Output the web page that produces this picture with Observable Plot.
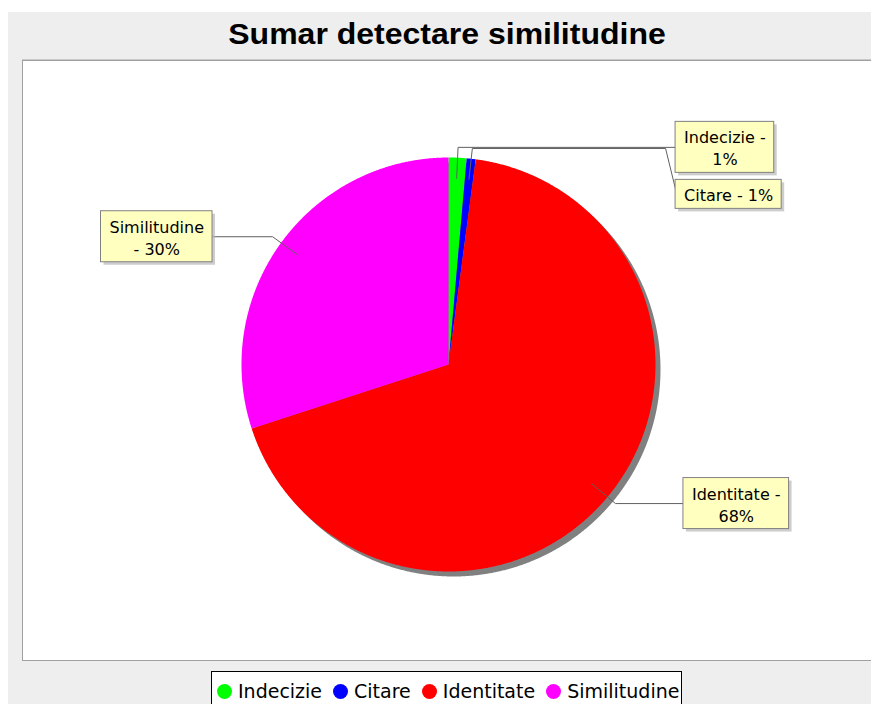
<!DOCTYPE html>
<html>
<head>
<meta charset="utf-8">
<script src="https://cdn.jsdelivr.net/npm/d3@7"></script>
<script src="https://cdn.jsdelivr.net/npm/@observablehq/plot@0.6"></script>
<style>
  html, body { margin: 0; padding: 0; width: 871px; height: 704px; overflow: hidden; background: #ffffff; font-family: "DejaVu Sans", sans-serif; }
  #panel { position: absolute; left: 8px; top: 12px; width: 900px; height: 720px; background: #eeeeee; }
  #title { position: absolute; left: 0; top: 19.6px; width: 894px; text-align: center; font: bold 32px/1 "Liberation Sans", Arial, sans-serif; color: #000; transform: scaleY(0.9); transform-origin: 50% 0; }
  #area { position: absolute; left: 22px; top: 60px; width: 900px; height: 599px; background: #ffffff; border: 1px solid #a0a0a0; box-shadow: 0 -1px 0 #c8c8c8; }
  #chart { position: absolute; left: 23px; top: 61px; }
  #legend { position: absolute; left: 211px; top: 671px; width: 471px; height: 40px; background: #fff; border: 1px solid #000; display: flex; align-items: center; padding-left: 5px; box-sizing: border-box; font: 19px "DejaVu Sans", sans-serif; color: #000; }
  .sw { width: 15px; height: 15px; border-radius: 50%; margin-right: 6px; flex: none; }
  .it { display: flex; align-items: center; margin-right: 11px; white-space: nowrap; }
</style>
</head>
<body>
<div id="panel"></div>
<div id="title">Sumar detectare similitudine</div>
<div id="area"></div>
<div id="chart"></div>
<div id="legend"></div>
<script>
// ---- data ----
const categories = ["Indecizie", "Citare", "Identitate", "Similitudine"];
const values = [1.4, 0.7, 67.9, 30.0];
const labelTexts = ["Indecizie -\n1%", "Citare - 1%", "Identitate -\n68%", "Similitudine\n- 30%"];
const colors = ["#00ff00", "#0000ff", "#ff0000", "#ff00ff"];

// ---- layout (not data) ----
const W = 848, H = 599;
const CX = 425, CY = 303, R = 207;           // pie centre / radius in svg px
const labelEdge = [1.097, 1.097, 1.135, -1.14]; // inner box edge, in radii from centre (sign = side)
const innerR = 0.9, outerR = 1.05;
const lineH = 22, padX = 8.5, padY = 7, boxGap = 7;

const toUX = px => (px - CX) / R;
const toUY = py => (CY - py) / R;

const arcs = d3.pie().sort(null).value(d => d)(values);

// slice polygons
const slicePts = [];
arcs.forEach((a, i) => {
  const cat = categories[i];
  slicePts.push({cat, x: 0, y: 0});
  const n = Math.max(2, Math.ceil((a.endAngle - a.startAngle) / (Math.PI / 720)));
  for (let k = 0; k <= n; k++) {
    const t = a.startAngle + (a.endAngle - a.startAngle) * k / n;
    slicePts.push({cat, x: Math.sin(t), y: Math.cos(t)});
  }
});

// label boxes
const ctx = document.createElement("canvas").getContext("2d");
ctx.font = "16px 'DejaVu Sans'";
const boxes = arcs.map((a, i) => {
  const mid = (a.startAngle + a.endAngle) / 2;
  const lines = labelTexts[i].split("\n");
  const w = d3.max(lines, l => ctx.measureText(l).width) + 2 * padX;
  const h = lines.length * lineH + padY;
  const side = Math.sign(labelEdge[i]);
  const ox = CX + Math.sin(mid) * outerR * R, oy = CY - Math.cos(mid) * outerR * R;
  const ix = CX + Math.sin(mid) * innerR * R, iy = CY - Math.cos(mid) * innerR * R;
  const edgeX = CX + labelEdge[i] * R;
  return {i, side, w, h, ox, oy, ix, iy, edgeX, cy: oy};
});
// resolve vertical overlaps per side (top to bottom)
for (const s of [1, -1]) {
  const list = boxes.filter(b => b.side === s).sort((a, b) => a.oy - b.oy);
  for (let k = 1; k < list.length; k++) {
    const prev = list[k - 1], cur = list[k];
    const minCy = prev.cy + prev.h / 2 + boxGap + cur.h / 2;
    if (cur.cy < minCy) cur.cy = minCy;
  }
}
const boxData = boxes.map(b => {
  const x1 = b.side > 0 ? b.edgeX : b.edgeX - b.w;
  const x2 = x1 + b.w;
  return {text: labelTexts[b.i], x1: toUX(x1), x2: toUX(x2), y1: toUY(b.cy - b.h / 2), y2: toUY(b.cy + b.h / 2),
          xc: toUX((x1 + x2) / 2), yc: toUY(b.cy)};
});
const leaderPts = [];
boxes.forEach(b => {
  const id = categories[b.i];
  const pts = [[b.ix, b.iy], [b.ox, b.oy]];
  if (Math.abs(b.cy - b.oy) < 1) pts.push([b.edgeX, b.oy]);
  else { pts.push([b.edgeX - b.side * 10, b.oy]); pts.push([b.edgeX, b.cy - 5]); }
  pts.forEach(([px, py]) => leaderPts.push({id, x: toUX(px), y: toUY(py)}));
});

const chart = Plot.plot({
  width: W, height: H,
  margin: 0,
  style: {background: "transparent", overflow: "visible"},
  x: {domain: [-1, 1], range: [CX - R, CX + R], axis: null},
  y: {domain: [-1, 1], range: [CY + R, CY - R], axis: null},
  color: {domain: categories, range: colors},
  marks: [
    Plot.line(slicePts, {x: "x", y: "y", z: "cat", fill: "#808080", stroke: "none", dx: 5, dy: 5}),
    Plot.line(slicePts, {x: "x", y: "y", z: "cat", fill: "cat", stroke: "none"}),
    Plot.line(leaderPts, {x: "x", y: "y", z: "id", stroke: "#606060", strokeWidth: 1}),
    Plot.rect(boxData, {x1: "x1", x2: "x2", y1: "y1", y2: "y2", fill: "#b8b8b8", fillOpacity: 0.7, dx: 3, dy: 3}),
    Plot.rect(boxData, {x1: "x1", x2: "x2", y1: "y1", y2: "y2", fill: "#ffffc0", stroke: "#808080", strokeWidth: 1}),
    Plot.text(boxData, {x: "xc", y: "yc", text: "text", fontSize: 16, fontFamily: "DejaVu Sans", lineHeight: 1.375, lineAnchor: "middle", textAnchor: "middle", fill: "#000"})
  ]
});
document.getElementById("chart").appendChild(chart);

// legend
const lg = document.getElementById("legend");
categories.forEach((c, i) => {
  const it = document.createElement("div");
  it.className = "it";
  const sw = document.createElement("span");
  sw.className = "sw";
  sw.style.background = colors[i];
  const tx = document.createElement("span");
  tx.textContent = c;
  it.appendChild(sw); it.appendChild(tx);
  lg.appendChild(it);
});
</script>
</body>
</html>
